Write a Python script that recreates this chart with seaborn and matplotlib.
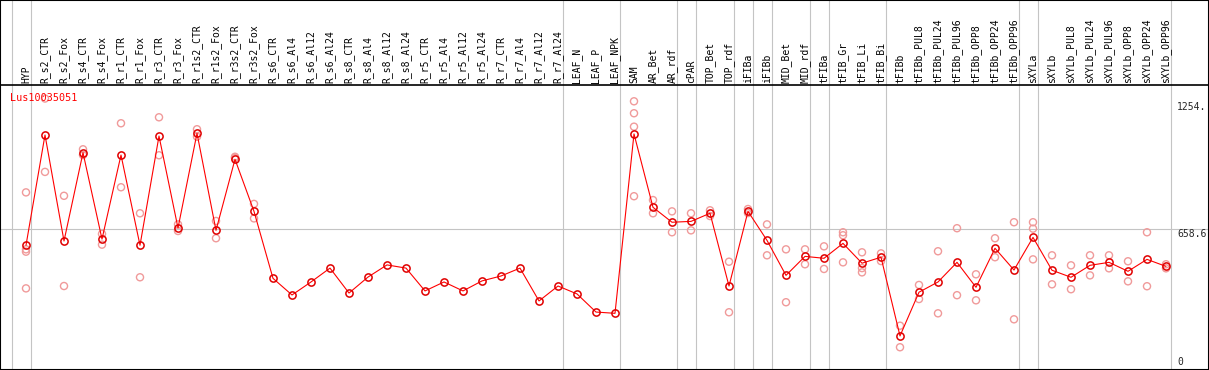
import matplotlib
matplotlib.use("Agg")
import matplotlib.pyplot as plt
import seaborn as sns
import pandas as pd

gene = "Lus10035051"

samples = [
    "HYP", "R_s2_CTR", "R_s2_Fox", "R_s4_CTR", "R_s4_Fox", "R_r1_CTR", "R_r1_Fox",
    "R_r3_CTR", "R_r3_Fox", "R_r1s2_CTR", "R_r1s2_Fox", "R_r3s2_CTR", "R_r3s2_Fox",
    "R_s6_CTR", "R_s6_Al4", "R_s6_Al12", "R_s6_Al24", "R_s8_CTR", "R_s8_Al4",
    "R_s8_Al12", "R_s8_Al24", "R_r5_CTR", "R_r5_Al4", "R_r5_Al12", "R_r5_Al24",
    "R_r7_CTR", "R_r7_Al4", "R_r7_Al12", "R_r7_Al24", "LEAF_N", "LEAF_P", "LEAF_NPK",
    "SAM", "AR_Bet", "AR_rdf", "cPAR", "TOP_Bet", "TOP_rdf", "iFIBa", "iFIBb",
    "MID_Bet", "MID_rdf", "tFIBa", "tFIB_Gr", "tFIB_Li", "tFIB_Bi", "tFIBb",
    "tFIBb_PUL8", "tFIBb_PUL24", "tFIBb_PUL96", "tFIBb_OPP8", "tFIBb_OPP24",
    "tFIBb_OPP96", "sXYLa", "sXYLb", "sXYLb_PUL8", "sXYLb_PUL24", "sXYLb_PUL96",
    "sXYLb_OPP8", "sXYLb_OPP24", "sXYLb_OPP96",
]

mean_expr = [
    580, 1097, 600, 1014, 609, 1003, 580, 1092, 661, 1105, 650, 983, 739,
    425, 347, 408, 473, 356, 431, 488, 473, 366, 408, 366, 413, 436, 473, 319, 389,
    352, 267, 261,
    1102, 758, 688, 692, 730, 389, 739, 603, 439, 528, 519, 589, 496, 524,
    155, 360, 408, 500, 383, 566, 464, 617, 463, 430, 486, 500, 458, 514, 481,
]

# individual replicates (empty where only the mean is shown)
replicates = [
    [828, 561, 550, 378], [1268, 924], [812, 389], [1030, 1003], [633, 583],
    [1152, 852], [730, 430], [1180, 1002], [678, 647], [1124, 1089], [694, 613],
    [995, 989], [774, 706],
    [], [], [], [], [], [], [], [], [], [], [], [], [], [], [], [],
    [], [], [],
    [1255, 1199, 1136, 810], [792, 730], [739, 641], [730, 650], [744, 717],
    [503, 266], [750, 731], [678, 533], [561, 313], [561, 491], [575, 469],
    [641, 627, 500], [547, 473, 453], [542, 506],
    [203, 102], [394, 328], [552, 261], [660, 346], [444, 322], [613, 524],
    [688, 233], [688, 658, 514], [533, 397], [486, 374], [533, 439], [533, 472],
    [505, 411], [641, 388], [491, 472],
]

# number of samples in each block between the grey separators
group_sizes = [1, 28, 3, 3, 1, 2, 1, 1, 2, 1, 3, 7, 1, 7]

y_marks = [1254, 658.6, 0]
y_mark_labels = ["1254.", "658.6", "0"]

main_df = pd.DataFrame({"pos": range(len(samples)), "expr": mean_expr})
rep_df = pd.DataFrame(
    [(i, v) for i, reps in enumerate(replicates) for v in reps],
    columns=["pos", "expr"],
)

sns.set_style("white")
plt.rcParams["font.family"] = ["DejaVu Sans Mono"]

fig = plt.figure(figsize=(12.09, 3.70), dpi=100)
ax = fig.add_axes([0, 0, 1, 1])

# pixel geometry of the original applet
col_w, x_first = 19, 26
units_per_px = 4.688
ax.set_xlim(-x_first / col_w, (1209 - x_first) / col_w)
ax.set_ylim(-1 * units_per_px, 369 * units_per_px)
header_y = (369 - 85) * units_per_px

grey = "#c4c4c4"
ax.axhline(658.6, color=grey, lw=0.8, zorder=1)
edge = -1
for g in group_sizes:
    ax.axvline(edge + 0.25, color=grey, lw=0.8, zorder=1)
    edge += g
ax.axvline(edge + 0.25, color=grey, lw=0.8, zorder=1)
ax.axhline(header_y, color="black", lw=1.2, zorder=2)

sns.scatterplot(data=rep_df, x="pos", y="expr", ax=ax, marker="o", s=26,
                facecolors="none", edgecolor="#f09a9a", linewidth=1.0, zorder=3)
sns.lineplot(data=main_df, x="pos", y="expr", ax=ax, color="#ff0000", lw=0.8,
             marker="o", ms=5.2, mfc="none", mec="#e00000", mew=1.1, zorder=4)

for i, name in enumerate(samples):
    ax.text(i, header_y + 2 * units_per_px, name, rotation=90, ha="center",
            va="bottom", fontsize=7, color="black")

ax.text(-0.85, (369 - 98) * units_per_px, gene, color="#ff0000", fontsize=7.3,
        ha="left", va="center")

x_lab = (1177 - x_first) / col_w
for v, lab in zip(y_marks, y_mark_labels):
    ax.text(x_lab, v if v > 0 else 2 * units_per_px, lab, fontsize=7,
            ha="left", va="top" if v > 0 else "bottom")

ax.set_xlabel("")
ax.set_ylabel("")
ax.set_xticks([])
ax.set_yticks([])
for s in ax.spines.values():
    s.set_color("black")
    s.set_linewidth(1.5)

fig.savefig("out.png", dpi=100)
